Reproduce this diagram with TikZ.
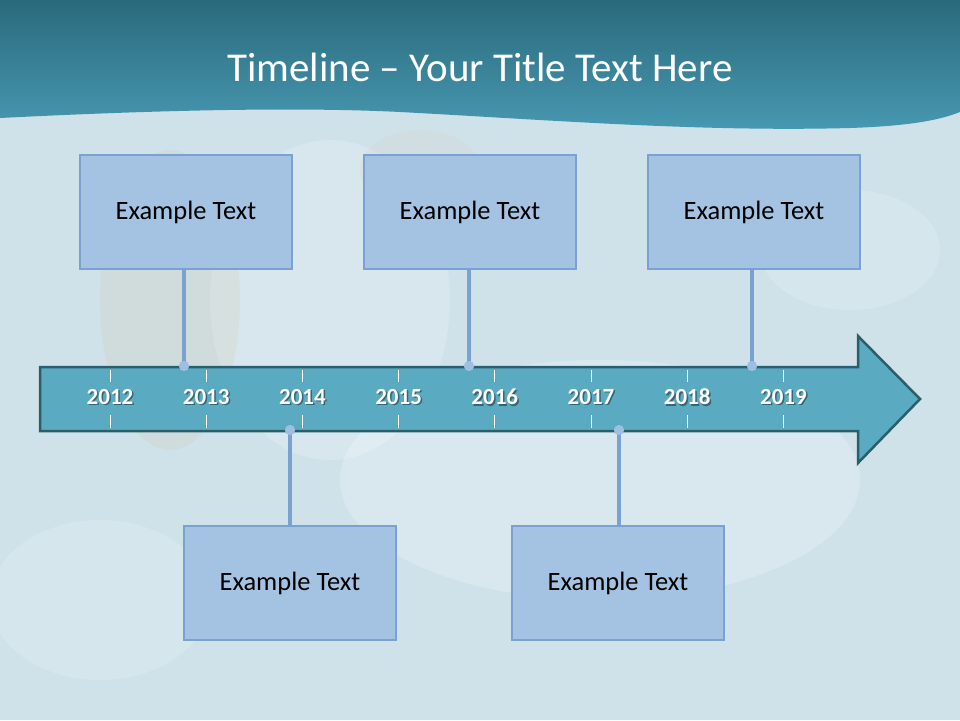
\documentclass[tikz,border=0pt]{standalone}
\usepackage{fontspec}
\setmainfont{Carlito}
\usetikzlibrary{calc}
\definecolor{bgblue}{HTML}{CFE2EA}
\definecolor{bandtop}{HTML}{2B6A7C}
\definecolor{bandbot}{HTML}{4799B2}
\definecolor{arrowfill}{HTML}{5AAAC2}
\definecolor{arrowedge}{HTML}{2A5E6C}
\definecolor{boxfill}{HTML}{A4C3E2}
\definecolor{boxedge}{HTML}{79A1D2}
\definecolor{dotfill}{HTML}{9FBFE2}
\definecolor{beige}{HTML}{D6CBAE}
\tikzset{
  eventbox/.style={draw=boxedge, fill=boxfill, line width=2.5pt, minimum width=212pt, minimum height=114pt, inner sep=0pt, font=\fontsize{26.5}{30}\selectfont, text=black},
  linkline/.style={draw=boxedge, line width=4pt},
  linkdot/.style={circle, fill=dotfill, minimum size=10pt, inner sep=0pt},
  yearlbl/.style={font=\bfseries\fontsize{23}{27}\selectfont, text=white},
  yearshadow/.style={font=\bfseries\fontsize{23}{27}\selectfont, text=black, opacity=0.4},
  tick/.style={draw=white, line width=0.8pt}
}
\begin{document}
\begin{tikzpicture}[x=1pt,y=-1pt]
\useasboundingbox (0,0) rectangle (960,720);
% background
\fill[bgblue] (0,0) rectangle (960,720);
\fill[white, opacity=0.22] (600,480) ellipse (260 and 120);
\fill[white, opacity=0.18] (330,300) ellipse (120 and 160);
\fill[beige, opacity=0.22] (170,300) ellipse (70 and 150);
\fill[beige, opacity=0.15] (420,170) ellipse (60 and 40);
\fill[white, opacity=0.15] (850,250) ellipse (90 and 60);
\fill[white, opacity=0.15] (100,600) ellipse (110 and 80);
% title band
\shade[top color=bandtop, bottom color=bandbot]
  (0,0) -- (960,0) -- (960,112)
  .. controls (940,120) and (910,126) .. (850,128)
  .. controls (700,132) and (550,120) .. (400,112)
  .. controls (280,106) and (120,112) .. (0,118) -- cycle;
\node[text=white, font=\fontsize{41}{48}\selectfont] (title) at (480,67) {Timeline – Your Title Text Here};
% timeline arrow
\draw[fill=arrowfill, draw=arrowedge, line width=2.5pt, line join=miter]
  (40,367) -- (858,367) -- (858,336) -- (920,399) -- (858,463) -- (858,431) -- (40,431) -- cycle;
% ticks and years
\foreach \yr [count=\i from 0] in {2012,2013,2014,2015,2016,2017,2018,2019} {
  \pgfmathsetmacro{\xx}{110+96.2*\i}
  \draw[tick] (\xx,370) -- (\xx,382);
  \draw[tick] (\xx,415) -- (\xx,428);
  \node[yearshadow] at (\xx+1.5,398.5) {\yr};
  \node[yearlbl] (y\yr) at (\xx,397) {\yr};
}
% event boxes
\node[eventbox] (b1) at (186,212) {Example Text};
\node[eventbox] (b2) at (470,212) {Example Text};
\node[eventbox] (b3) at (754,212) {Example Text};
\node[eventbox] (b4) at (290,583) {Example Text};
\node[eventbox] (b5) at (618,583) {Example Text};
% dots on the arrow
\node[linkdot] (d1) at (184,366) {};
\node[linkdot] (d2) at (469,366) {};
\node[linkdot] (d3) at (752,366) {};
\node[linkdot] (d4) at (290,430) {};
\node[linkdot] (d5) at (619,430) {};
% connectors
\draw[linkline] (b1.south -| d1) -- (d1.center);
\draw[linkline] (b2.south -| d2) -- (d2.center);
\draw[linkline] (b3.south -| d3) -- (d3.center);
\draw[linkline] (d4.center) -- (b4.north -| d4);
\draw[linkline] (d5.center) -- (b5.north -| d5);
\node[linkdot] at (d1) {};
\node[linkdot] at (d2) {};
\node[linkdot] at (d3) {};
\node[linkdot] at (d4) {};
\node[linkdot] at (d5) {};
% redraw boxes over line ends
\node[eventbox] at (b1) {Example Text};
\node[eventbox] at (b2) {Example Text};
\node[eventbox] at (b3) {Example Text};
\node[eventbox] at (b4) {Example Text};
\node[eventbox] at (b5) {Example Text};
\end{tikzpicture}
\end{document}
